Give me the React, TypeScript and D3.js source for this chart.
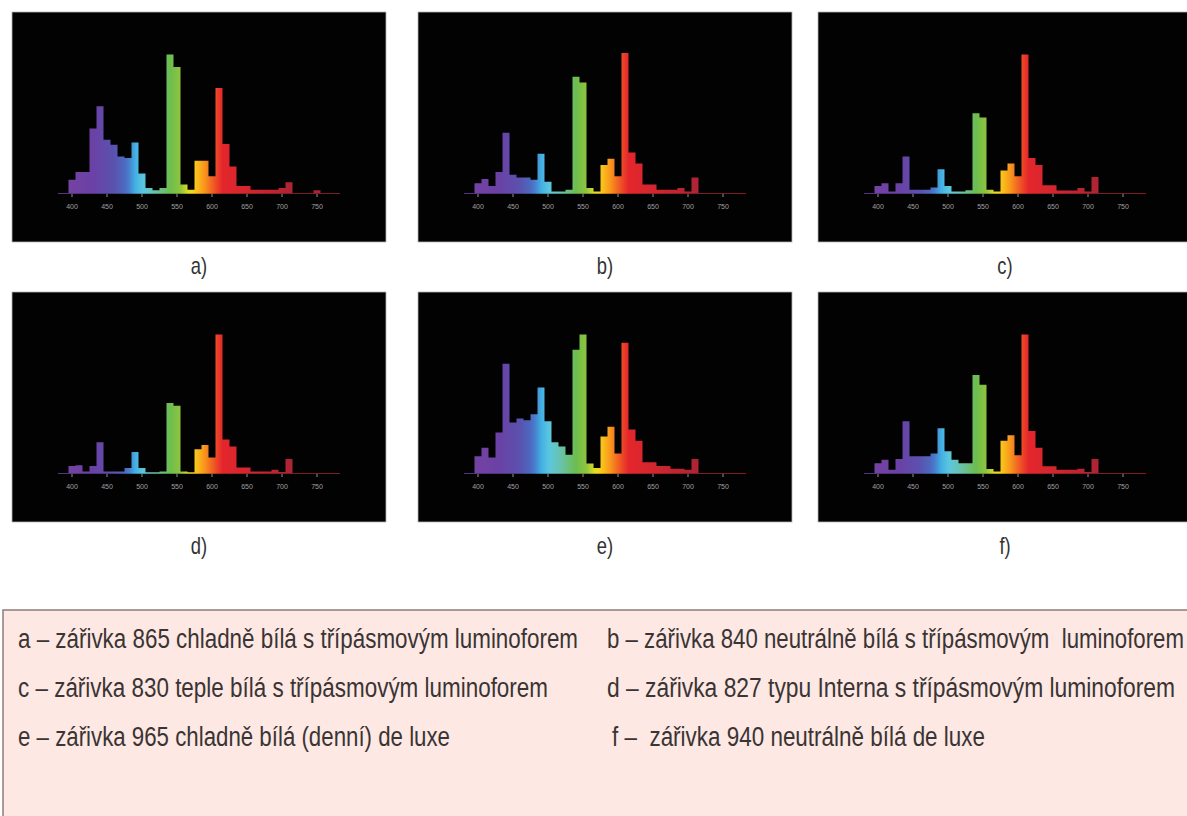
import React from "react";
import * as d3 from "d3";

// 10 nm bins, centre wavelength
const wavelengths = [400, 410, 420, 430, 440, 450, 460, 470, 480, 490, 500, 510, 520, 530, 540, 550, 560, 570,
  580, 590, 600, 610, 620, 630, 640, 650, 660, 670, 680, 690, 700, 710, 720, 730, 740, 750];

// relative spectral power
const lampA = [9.5, 15, 15, 46, 62, 38, 34.5, 26, 25, 36, 14, 3.5, 2, 3.5, 99, 90, 6, 2.4,
  23, 23, 12, 75, 35, 19, 5, 5, 2.4, 2.4, 2.4, 2.4, 3.5, 7.6, 0, 0, 0, 2];
const lampB = [7, 10, 5, 15, 43, 13, 11, 11, 9.5, 28, 8, 1, 1, 2.4, 83, 79, 3.5, 1,
  20, 24.5, 12, 100, 29, 21, 6, 6, 2.4, 2.4, 2.4, 3.5, 1, 11, 0, 0, 0, 0];
const lampC = [5, 7, 1, 7, 26, 2.4, 2.4, 2.4, 4, 17, 5, 1, 1, 2, 57, 54, 2.4, 1,
  16, 21, 12, 99, 25, 20, 5.5, 5.5, 1.7, 1.7, 1.7, 3.5, 1, 11.4, 0, 0, 0, 0];
const lampD = [5, 5.5, 1, 5, 22, 1, 1, 1, 3.5, 15, 3.5, 0.5, 0.5, 1, 50, 48, 1, 0.5,
  17, 20, 11, 99, 24, 19, 4, 4, 1, 1, 1, 2.4, 0.7, 10, 0, 0, 0, 0];
const lampE = [12, 18, 11, 29, 78, 36, 39, 37.6, 42, 61, 37, 22, 19, 13, 88, 99, 6.7, 3.5,
  26, 33, 14, 93, 31, 23, 7.6, 7.6, 5, 5, 3, 3, 2.4, 10, 0, 0, 0, 0];
const lampF = [7, 9.5, 2.4, 10, 37, 12, 12, 12, 14, 32, 15.5, 9.5, 7, 7, 70, 63, 2.9, 1,
  23, 27, 12.6, 99, 30, 18, 4.8, 4.8, 2.4, 2.4, 2.4, 3, 0.7, 10, 0, 0, 0, 0];

const panelSeries = [lampA, lampB, lampC, lampD, lampE, lampF];
const panelLabels = ["a)", "b)", "c)", "d)", "e)", "f)"];
const tickLabels = [400, 450, 500, 550, 600, 650, 700, 750];

const legendLeft = [
  "a – zářivka 865 chladně bílá s třípásmovým luminoforem",
  "c – zářivka 830 teple bílá s třípásmovým luminoforem",
  "e – zářivka 965 chladně bílá (denní) de luxe",
];
const legendRight = [
  "b – zářivka 840 neutrálně bílá s třípásmovým  luminoforem",
  "d – zářivka 827 typu Interna s třípásmovým luminoforem",
  "f –  zářivka 940 neutrálně bílá de luxe",
];

const W = 1187;
const H = 816;
const panelW = 374;
const panelH = 230;
const colX = [12, 418, 818];
const rowY = [12, 292];
const baseY = 181;

const x = d3.scaleLinear().domain([400, 750]).range([60, 305]);
const y = d3.scaleLinear().domain([0, 100]).range([baseY, 41]);

const spectrum = d3.scaleLinear<string>()
  .domain([390, 430, 460, 478, 490, 502, 520, 540, 555, 568, 578, 590, 602, 615, 650, 720])
  .range(["#7543a2", "#6a41a5", "#5a52ae", "#4a6ec4", "#42aee3", "#5cc8e0", "#69c2a4", "#6cbd4f",
    "#8ec53e", "#ece21e", "#fbc11a", "#f7931d", "#f05a24", "#e4262c", "#d3262e", "#a92434"])
  .interpolate(d3.interpolateRgb)
  .clamp(true);

const area = d3.area<[number, number]>()
  .x(d => x(d[0]))
  .y0(baseY)
  .y1(d => y(d[1]))
  .curve(d3.curveStepAfter);

function Panel({ values, label, px, py }) {
  const pts: [number, number][] = wavelengths.map((w, i) => [w - 5, values[i]]);
  pts.push([wavelengths[wavelengths.length - 1] + 5, values[values.length - 1]]);
  return (
    <g transform={`translate(${px},${py})`}>
      <rect width={panelW} height={panelH} fill="#020202" stroke="#b5b5b5" strokeWidth={0.8} />
      <line x1={x(380)} x2={x(783)} y1={baseY + 0.5} y2={baseY + 0.5} stroke="url(#spec)" strokeOpacity={0.75} />
      <path d={area(pts)} fill="url(#spec)" />
      {tickLabels.map(t => (
        <g key={t}>
          <line x1={x(t)} x2={x(t)} y1={baseY + 1} y2={baseY + 4} stroke="#bdbdbd" strokeWidth={0.8} />
          <text x={x(t)} y={baseY + 16} textAnchor="middle" fontSize={7} fill="#a0a0a0"
            fontFamily="'Liberation Sans', Arial, sans-serif">{t}</text>
        </g>
      ))}
      <text transform={`translate(${panelW / 2},${panelH + 32}) scale(0.8,1)`} textAnchor="middle"
        fontSize={23} fill="#333" fontFamily="'Liberation Sans', Arial, sans-serif">{label}</text>
    </g>
  );
}

export default function App() {
  const stops = d3.range(380, 771, 5);
  const leftEnds = [578, 548, 450];
  const rightStarts = [607, 607, 612];
  const rightEnds = [1184, 1175, 985];
  const lineY = [648, 697, 746];
  const sx = 0.74;
  const font = "'Liberation Sans', Arial, sans-serif";
  const legendText = (t: string, x0: number, x1: number, yy: number) => (
    <text key={t} transform={`translate(${x0},${yy}) scale(${sx},1)`} fontSize={28} fill="#3a3434"
      fontFamily={font} textLength={(x1 - x0) / sx} lengthAdjust="spacingAndGlyphs"
      style={{ whiteSpace: "pre" }}>{t}</text>
  );
  return (
    <svg width={W} height={H} style={{ position: "absolute", left: 0, top: 0, background: "#fff" }}>
      <defs>
        <linearGradient id="spec" gradientUnits="userSpaceOnUse" x1={x(380)} x2={x(770)} y1={0} y2={0}>
          {stops.map(s => (
            <stop key={s} offset={(s - 380) / 390} stopColor={spectrum(s)} />
          ))}
        </linearGradient>
      </defs>
      {panelSeries.map((vals, i) => (
        <Panel key={i} values={vals} label={panelLabels[i]} px={colX[i % 3]} py={rowY[Math.floor(i / 3)]} />
      ))}
      <rect x={3} y={610} width={1200} height={230} fill="#fde8e3" stroke="#8e7c7c" strokeWidth={1.5} />
      {legendLeft.map((t, i) => legendText(t, 18, leftEnds[i], lineY[i]))}
      {legendRight.map((t, i) => legendText(t, rightStarts[i], rightEnds[i], lineY[i]))}
    </svg>
  );
}
